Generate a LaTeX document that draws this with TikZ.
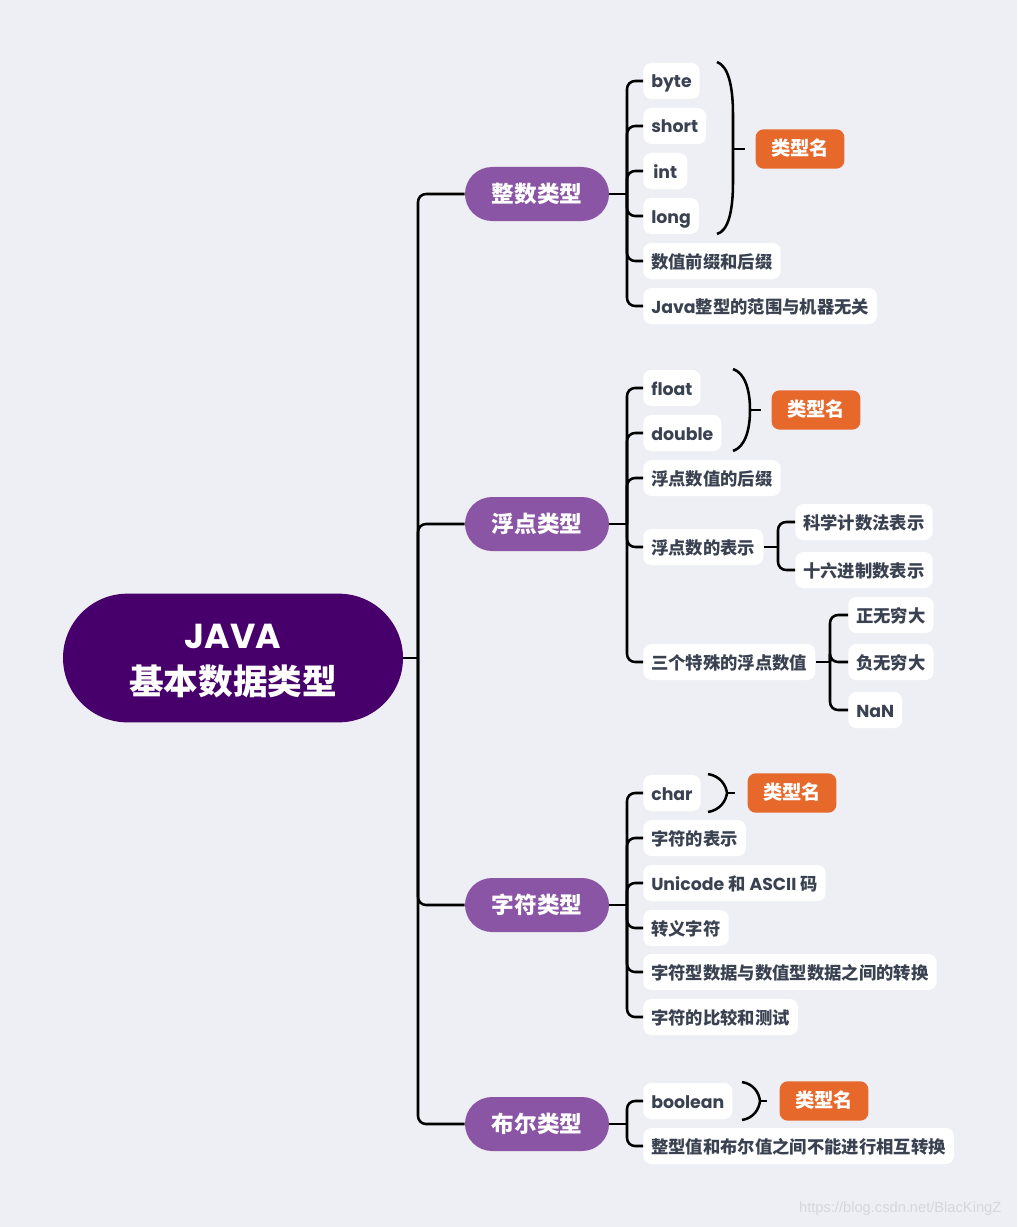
\documentclass[tikz,border=0pt]{standalone}
\usepackage{fontspec}
\usetikzlibrary{shapes.misc}
\newfontfamily\cjkf{Noto Sans CJK SC}
\newfontfamily\latf{Poppins}
\newfontfamily\wmf{Liberation Sans}
\definecolor{bg}{HTML}{EEEFF4}
\definecolor{rootc}{HTML}{47006B}
\definecolor{lvc}{HTML}{8A55A4}
\definecolor{orc}{HTML}{E6692B}
\definecolor{lt}{HTML}{3A4252}
\definecolor{wmc}{HTML}{D6D7DC}
\newcommand\la[1]{{\latf\bfseries #1}}
\tikzset{
  conn/.style={line width=1.9pt, rounded corners=6pt, draw=black},
  bracec/.style={line width=1.9pt, draw=black},
  leaf/.style={fill=white, rounded corners=6pt, anchor=west, minimum height=27pt,
    minimum width=33pt, inner xsep=6pt, inner ysep=0pt, text height=12pt, text depth=1.5pt,
    text=lt, font=\cjkf\bfseries\fontsize{13}{15}\selectfont},
  lvone/.style={rounded rectangle, fill=lvc, minimum width=108pt, minimum height=40.5pt,
    text=white, inner sep=0pt, font=\cjkf\bfseries\fontsize{17}{20}\selectfont},
  tname/.style={fill=orc, rounded corners=6pt, minimum width=66.5pt, minimum height=29.5pt,
    inner sep=0pt, text=white, text height=11.5pt, text depth=1.5pt,
    font=\cjkf\bfseries\fontsize{14.5}{17}\selectfont},
  rootn/.style={rounded rectangle, fill=rootc, minimum width=255pt, minimum height=96.5pt,
    inner sep=0pt},
  roottext/.style={text=white, align=center, inner sep=0pt,
    font=\cjkf\bfseries\fontsize{26}{34.5}\selectfont}
}
\begin{document}
\begin{tikzpicture}[x=0.75pt,y=-0.75pt]
\useasboundingbox (0,0) rectangle (1017,1227);
\fill[bg] (0,0) rectangle (1017,1227);

% root
\node[rootn] (root) at (233,658) {};
\node[roottext] (roottxt) at (233,661) {\la{JAVA}\\基本数据类型};
\coordinate (T) at (418,658);

% level 1
\node[lvone] (n1) at (537,194) {整数类型};
\node[lvone] (n2) at (537,524) {浮点类型};
\node[lvone] (n3) at (537,905) {字符类型};
\node[lvone] (n4) at (537,1124) {布尔类型};

\draw[conn] (root.east) -- (T);
\foreach \n in {n1,n2,n3,n4} \draw[conn] (\n.west) -| (T);

% integer group
\coordinate (t1) at (627,194);
\node[leaf] (i1) at (643,81) {\la{byte}};
\node[leaf] (i2) at (643,126) {\la{short}};
\node[leaf] (i3) at (643,171) {\la{int}};
\node[leaf] (i4) at (643,216) {\la{long}};
\node[leaf] (i5) at (643,261) {数值前缀和后缀};
\node[leaf] (i6) at (643,306) {\la{Java}整型的范围与机器无关};
\draw[conn] (n1.east) -- (t1);
\foreach \n in {i1,i2,i3,i4,i5,i6} \draw[conn] (\n.west) -| (t1);
\node[tname] (k1) at (800,149) {类型名};
\draw[bracec] (717,62) .. controls (728,66) and (733,85) .. (733,115) -- (733,182)
  .. controls (733,212) and (728,231) .. (717,234);
\draw[bracec] (733,149) -- ([xshift=-8pt]k1.west);

% float group
\coordinate (t2) at (627,524);
\node[leaf] (f1) at (643,388) {\la{float}};
\node[leaf] (f2) at (643,433) {\la{double}};
\node[leaf] (f3) at (643,478) {浮点数值的后缀};
\node[leaf] (f4) at (643,547) {浮点数的表示};
\node[leaf] (f5) at (643,662) {三个特殊的浮点数值};
\draw[conn] (n2.east) -- (t2);
\foreach \n in {f1,f2,f3,f4,f5} \draw[conn] (\n.west) -| (t2);
\node[tname] (k2) at (816,410) {类型名};
\draw[bracec] (733,369) .. controls (745,373) and (750,390) .. (750,410)
  .. controls (750,430) and (745,447) .. (733,451);
\draw[bracec] (750,410) -- ([xshift=-8pt]k2.west);

\coordinate (t5) at (778,547);
\node[leaf] (g1) at (795,522) {科学计数法表示};
\node[leaf] (g2) at (795,570) {十六进制数表示};
\draw[conn] (f4.east) -- (t5);
\foreach \n in {g1,g2} \draw[conn] (\n.west) -| (t5);

\coordinate (t6) at (830,662);
\node[leaf] (h1) at (848,615) {正无穷大};
\node[leaf] (h2) at (848,662) {负无穷大};
\node[leaf] (h3) at (848,710) {\la{NaN}};
\draw[conn] (f5.east) -- (t6);
\foreach \n in {h1,h2,h3} \draw[conn] (\n.west) -| (t6);

% char group
\coordinate (t3) at (627,905);
\node[leaf] (c1) at (643,793) {\la{char}};
\node[leaf] (c2) at (643,838) {字符的表示};
\node[leaf] (c3) at (643,883) {\la{Unicode} 和 \la{ASCII} 码};
\node[leaf] (c4) at (643,928) {转义字符};
\node[leaf] (c5) at (643,972) {字符型数据与数值型数据之间的转换};
\node[leaf] (c6) at (643,1017) {字符的比较和测试};
\draw[conn] (n3.east) -- (t3);
\foreach \n in {c1,c2,c3,c4,c5,c6} \draw[conn] (\n.west) -| (t3);
\node[tname] (k3) at (792,793) {类型名};
\draw[bracec] (708,774) .. controls (720,776) and (726,785) .. (727,793)
  .. controls (726,801) and (720,810) .. (708,812);
\draw[bracec] (727,793) -- ([xshift=-9pt]k3.west);

% boolean group
\coordinate (t4) at (627,1124);
\node[leaf] (b1) at (643,1101) {\la{boolean}};
\node[leaf] (b2) at (643,1146) {整型值和布尔值之间不能进行相互转换};
\draw[conn] (n4.east) -- (t4);
\foreach \n in {b1,b2} \draw[conn] (\n.west) -| (t4);
\node[tname] (k4) at (824,1101) {类型名};
\draw[bracec] (742,1082) .. controls (754,1084) and (759,1093) .. (760,1101)
  .. controls (759,1109) and (754,1118) .. (742,1120);
\draw[bracec] (760,1101) -- ([xshift=-9pt]k4.west);

% watermark
\node[text=wmc, font=\wmf\fontsize{11}{13}\selectfont, anchor=east] (wm) at (1006,1209) {https://blog.csdn.net/BlacKingZ};
\end{tikzpicture}
\end{document}
